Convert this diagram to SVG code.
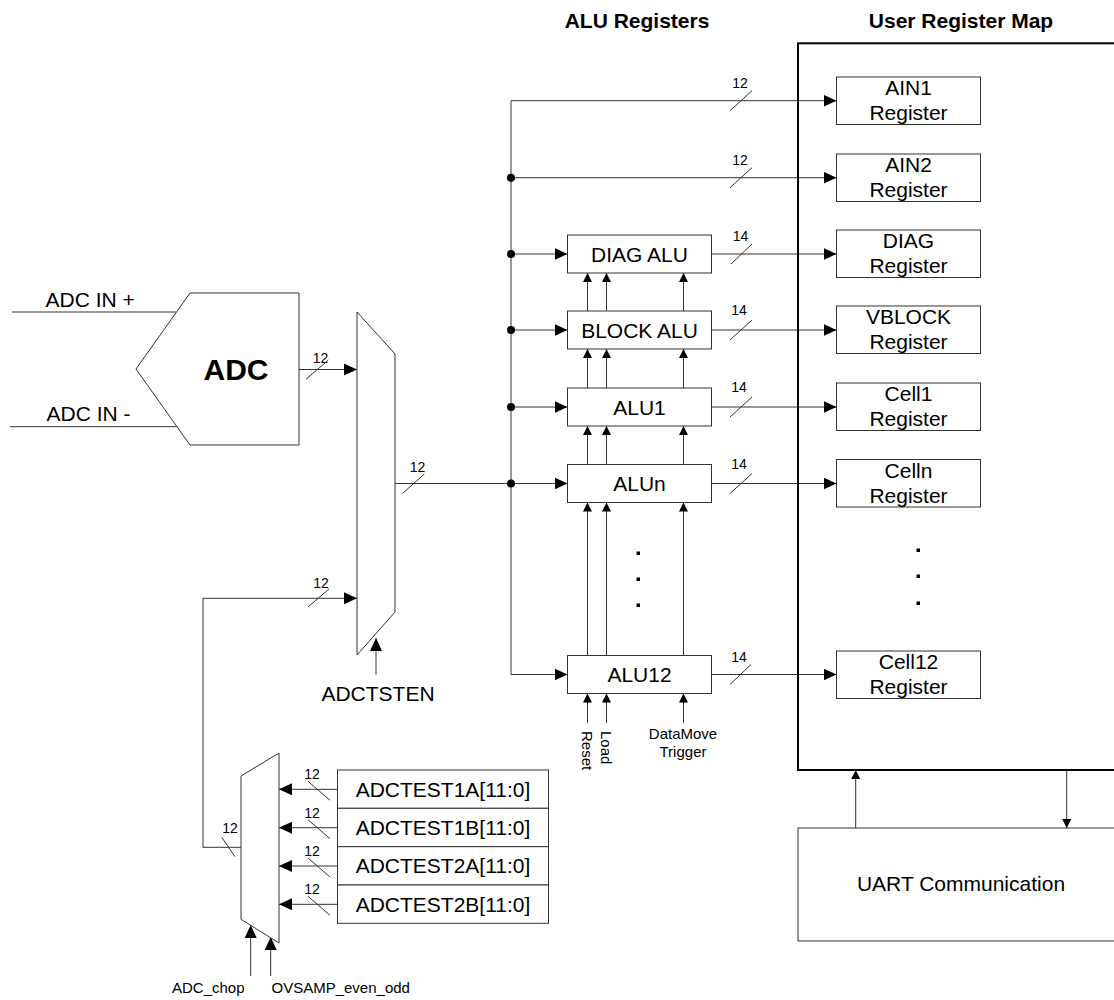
<svg xmlns="http://www.w3.org/2000/svg" width="1114" height="1000" viewBox="0 0 1114 1000">
<style>
.ln{stroke:#333;stroke-width:1;fill:none}
.box{fill:#fff;stroke:#333;stroke-width:1}
.t{font-family:"Liberation Sans",Arial,sans-serif;font-size:21px;fill:#000}
.s{font-size:14px}
.c{font-size:15px}
.m{text-anchor:middle}
.b{font-weight:bold}
</style>
<defs>
<marker id="ab" markerUnits="userSpaceOnUse" markerWidth="13" markerHeight="12" refX="13" refY="6" orient="auto"><path d="M0,0 L13,6 L0,12 z" fill="#000"/></marker>
<marker id="as" markerUnits="userSpaceOnUse" markerWidth="9" markerHeight="9" refX="9" refY="4.5" orient="auto"><path d="M0,0 L9,4.5 L0,9 z" fill="#000"/></marker>
</defs>
<rect width="1114" height="1000" fill="#fff"/>

<text class="t b m" x="637" y="28">ALU Registers</text>
<text class="t b m" x="961" y="28">User Register Map</text>

<g id="connectors">
<path class="ln" d="M12,312 H176.5"/>
<path class="ln" d="M10,426.7 H177"/>
<path class="ln" d="M299,369.5 H357" marker-end="url(#ab)"/>
<path class="ln" d="M241,847.3 H203 V598.3 H357" marker-end="url(#ab)"/>
<path class="ln" d="M376,675 V638" marker-end="url(#ab)"/>
<path class="ln" d="M395,483.5 H567.5" marker-end="url(#ab)"/>
<path class="ln" d="M511,674.5 V100.7"/>
<path class="ln" d="M511,100.7 H836.5" marker-end="url(#ab)"/>
<path class="ln" d="M511,177.7 H836.5" marker-end="url(#ab)"/>
<path class="ln" d="M511,254 H567.5" marker-end="url(#ab)"/>
<path class="ln" d="M511,330 H567.5" marker-end="url(#ab)"/>
<path class="ln" d="M511,407 H567.5" marker-end="url(#ab)"/>
<path class="ln" d="M511,674.5 H567.5" marker-end="url(#ab)"/>
<path class="ln" d="M711.5,254 H836.5" marker-end="url(#ab)"/>
<path class="ln" d="M711.5,330 H836.5" marker-end="url(#ab)"/>
<path class="ln" d="M711.5,407 H836.5" marker-end="url(#ab)"/>
<path class="ln" d="M711.5,483.5 H836.5" marker-end="url(#ab)"/>
<path class="ln" d="M711.5,674.5 H836.5" marker-end="url(#ab)"/>
<g fill="#000">
<circle cx="511" cy="177.7" r="4"/>
<circle cx="511" cy="254" r="4"/>
<circle cx="511" cy="330" r="4"/>
<circle cx="511" cy="407" r="4"/>
<circle cx="511" cy="483.5" r="4"/>
</g>
<!-- ALU control arrows -->
<path class="ln" d="M587.5,311 V273" marker-end="url(#as)"/>
<path class="ln" d="M606.5,311 V273" marker-end="url(#as)"/>
<path class="ln" d="M683.5,311 V273" marker-end="url(#as)"/>
<path class="ln" d="M587.5,388 V349" marker-end="url(#as)"/>
<path class="ln" d="M606.5,388 V349" marker-end="url(#as)"/>
<path class="ln" d="M683.5,388 V349" marker-end="url(#as)"/>
<path class="ln" d="M587.5,464.5 V426" marker-end="url(#as)"/>
<path class="ln" d="M606.5,464.5 V426" marker-end="url(#as)"/>
<path class="ln" d="M683.5,464.5 V426" marker-end="url(#as)"/>
<path class="ln" d="M587.5,655.5 V502.5" marker-end="url(#as)"/>
<path class="ln" d="M606.5,655.5 V502.5" marker-end="url(#as)"/>
<path class="ln" d="M683.5,655.5 V502.5" marker-end="url(#as)"/>
<path class="ln" d="M587.5,723 V693.5" marker-end="url(#as)"/>
<path class="ln" d="M606.5,723 V693.5" marker-end="url(#as)"/>
<path class="ln" d="M683.5,723 V693.5" marker-end="url(#as)"/>
<!-- mux2 inputs -->
<path class="ln" d="M337.5,789.3 H279" marker-end="url(#ab)"/>
<path class="ln" d="M337.5,827.7 H279" marker-end="url(#ab)"/>
<path class="ln" d="M337.5,866 H279" marker-end="url(#ab)"/>
<path class="ln" d="M337.5,904.3 H279" marker-end="url(#ab)"/>
<path class="ln" d="M250.7,976 V925" marker-end="url(#ab)"/>
<path class="ln" d="M270.7,976 V937" marker-end="url(#ab)"/>
<!-- UART -->
<path class="ln" d="M855.7,828 V770" marker-end="url(#as)"/>
<path class="ln" d="M1066.7,770 V828" marker-end="url(#as)"/>
<!-- bus width ticks -->
<g class="ln">
<path d="M306,379.3 L328.3,360"/>
<path d="M308,607 L329,589"/>
<path d="M402.7,493.3 L424.3,474"/>
<path d="M730,110.7 L752,90.7"/>
<path d="M730,187.7 L752,167.7"/>
<path d="M731,264 L752,244"/>
<path d="M730,340 L752,320"/>
<path d="M730,417 L752,397"/>
<path d="M730,493.5 L752,473.5"/>
<path d="M730,684.5 L751,664.5"/>
<path d="M221.7,837.3 L235,856.7"/>
<path d="M308,781.3 L330,800.3"/>
<path d="M308,819.7 L330,838.7"/>
<path d="M308,858 L330,877"/>
<path d="M308,896.3 L330,915.3"/>
</g>
<g class="t s m">
<text x="320.5" y="363">12</text>
<text x="321" y="588">12</text>
<text x="417.5" y="471.7">12</text>
<text x="740" y="87.5">12</text>
<text x="740" y="164.5">12</text>
<text x="740.5" y="241">14</text>
<text x="739" y="315">14</text>
<text x="739" y="392">14</text>
<text x="739" y="468.5">14</text>
<text x="739" y="661.5">14</text>
<text x="230" y="832.7">12</text>
<text x="312" y="779.3">12</text>
<text x="312" y="817.7">12</text>
<text x="312" y="856">12</text>
<text x="312" y="894.3">12</text>
</g>
</g>

<g id="adc">
<polygon class="box" points="190,293 299,293 299,445 190,445 136,369"/>
<text class="t b m" x="236" y="380" style="font-size:30px">ADC</text>
<text class="t" x="45.5" y="307">ADC IN +</text>
<text class="t" x="46.5" y="421">ADC IN -</text>
</g>

<g id="mux1">
<polygon class="box" points="357,312 395,354 395,612 357,655"/>
<text class="t m" x="378" y="701">ADCTSTEN</text>
</g>

<g id="mux2">
<polygon class="box" points="241,776 279,753 279,943 241,919.3"/>
<text class="t c" x="172" y="993">ADC_chop</text>
<text class="t c" x="271.5" y="993">OVSAMP_even_odd</text>
</g>

<g id="adctest">
<rect class="box" x="337.5" y="770" width="211" height="38.3"/>
<rect class="box" x="337.5" y="808.3" width="211" height="38.3"/>
<rect class="box" x="337.5" y="846.7" width="211" height="38.3"/>
<rect class="box" x="337.5" y="885" width="211" height="38.3"/>
<g class="t m">
<text x="443" y="796.5">ADCTEST1A[11:0]</text>
<text x="443" y="834.8">ADCTEST1B[11:0]</text>
<text x="443" y="873.2">ADCTEST2A[11:0]</text>
<text x="443" y="911.5">ADCTEST2B[11:0]</text>
</g>
</g>

<g id="diag-alu"><rect class="box" x="567.5" y="235" width="144" height="38"/><text class="t m" x="639.5" y="261.5">DIAG ALU</text></g>
<g id="block-alu"><rect class="box" x="567.5" y="311" width="144" height="38"/><text class="t m" x="639.5" y="337.5">BLOCK ALU</text></g>
<g id="alu1"><rect class="box" x="567.5" y="388" width="144" height="38"/><text class="t m" x="639.5" y="414.5">ALU1</text></g>
<g id="alun"><rect class="box" x="567.5" y="464.5" width="144" height="38"/><text class="t m" x="639.5" y="491">ALUn</text></g>
<g id="alu12"><rect class="box" x="567.5" y="655.5" width="144" height="38"/><text class="t m" x="639.5" y="682">ALU12</text></g>
<g id="alu-dots" fill="#000">
<rect x="636.5" y="551.5" width="3.5" height="3.5"/>
<rect x="636.5" y="577.5" width="3.5" height="3.5"/>
<rect x="636.5" y="603.5" width="3.5" height="3.5"/>
</g>
<g id="alu-controls" class="t c">
<text x="582" y="731" transform="rotate(90 582 731)">Reset</text>
<text x="601" y="731" transform="rotate(90 601 731)">Load</text>
<text class="m" x="683" y="738.5">DataMove</text>
<text class="m" x="683" y="756.5">Trigger</text>
</g>

<g id="register-map">
<rect x="798" y="43.3" width="330" height="726.7" fill="none" stroke="#000" stroke-width="2"/>
</g>
<g id="ain1"><rect class="box" x="836.5" y="77" width="144" height="47.5"/><text class="t m" x="908.5" y="95">AIN1</text><text class="t m" x="908.5" y="120">Register</text></g>
<g id="ain2"><rect class="box" x="836.5" y="154" width="144" height="47.5"/><text class="t m" x="908.5" y="172">AIN2</text><text class="t m" x="908.5" y="197">Register</text></g>
<g id="diag-reg"><rect class="box" x="836.5" y="230" width="144" height="47.5"/><text class="t m" x="908.5" y="248">DIAG</text><text class="t m" x="908.5" y="273">Register</text></g>
<g id="vblock-reg"><rect class="box" x="836.5" y="306" width="144" height="47.5"/><text class="t m" x="908.5" y="324">VBLOCK</text><text class="t m" x="908.5" y="349">Register</text></g>
<g id="cell1-reg"><rect class="box" x="836.5" y="383" width="144" height="47.5"/><text class="t m" x="908.5" y="401">Cell1</text><text class="t m" x="908.5" y="426">Register</text></g>
<g id="celln-reg"><rect class="box" x="836.5" y="459.5" width="144" height="47.5"/><text class="t m" x="908.5" y="477.5">Celln</text><text class="t m" x="908.5" y="502.5">Register</text></g>
<g id="cell12-reg"><rect class="box" x="836.5" y="651" width="144" height="47.5"/><text class="t m" x="908.5" y="669">Cell12</text><text class="t m" x="908.5" y="694">Register</text></g>
<g id="reg-dots" fill="#000">
<rect x="916.5" y="548.5" width="3.5" height="3.5"/>
<rect x="916.5" y="574.5" width="3.5" height="3.5"/>
<rect x="916.5" y="601.5" width="3.5" height="3.5"/>
</g>

<g id="uart">
<rect class="box" x="798" y="828" width="330" height="113"/>
<text class="t m" x="961" y="891">UART Communication</text>
</g>
</svg>
